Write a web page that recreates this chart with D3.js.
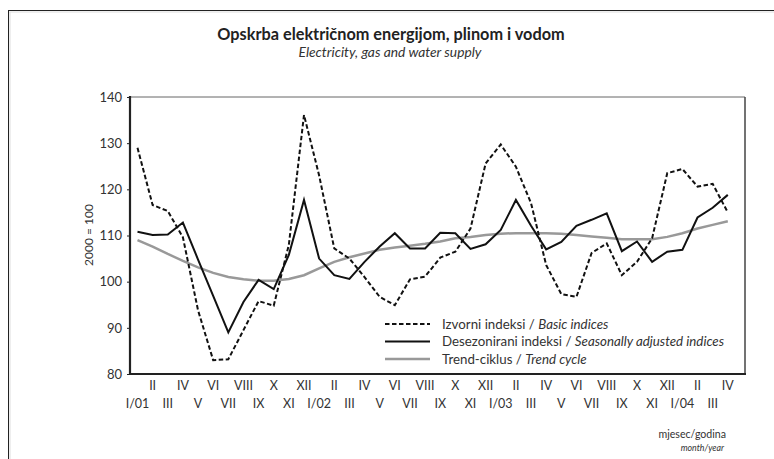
<!DOCTYPE html>
<html><head><meta charset="utf-8">
<script src="https://cdn.jsdelivr.net/npm/d3@7"></script>
<style>body{margin:0;background:#fff}svg{display:block}text{font-family:Lato,"Open Sans",sans-serif;fill:#333}</style>
</head><body><svg id="c" width="774" height="459"></svg>
<script>
const months = ["I/01","II","III","IV","V","VI","VII","VIII","IX","X","XI","XII",
"I/02","II","III","IV","V","VI","VII","VIII","IX","X","XI","XII",
"I/03","II","III","IV","V","VI","VII","VIII","IX","X","XI","XII",
"I/04","II","III","IV"];
const basicIndices = [129.0,116.6,115.3,109.6,93.8,83.0,83.2,89.5,95.8,94.8,108.0,136.1,
123.0,107.2,105.0,101.0,96.7,94.9,100.5,101.1,105.2,106.5,111.5,125.6,
129.7,124.9,117.0,103.6,97.3,96.7,106.2,108.3,101.4,104.3,109.4,123.5,
124.4,120.6,121.2,115.0];
const seasonallyAdjusted = [110.8,110.1,110.2,112.8,104.8,96.9,89.0,95.6,100.4,98.4,105.8,117.7,
105.0,101.4,100.6,104.3,107.6,110.5,107.2,107.2,110.6,110.5,107.1,108.1,
111.2,117.7,112.1,107.0,108.6,112.1,113.4,114.8,106.6,108.7,104.3,106.5,
106.9,113.9,116.0,118.8];
const trendCycle = [109.0,107.6,106.0,104.5,103.1,101.9,101.0,100.5,100.2,100.2,100.6,101.4,
102.9,104.3,105.3,106.1,106.9,107.4,107.8,108.2,108.7,109.4,109.7,110.1,
110.4,110.5,110.5,110.5,110.4,110.1,109.8,109.5,109.2,109.2,109.2,109.7,
110.5,111.5,112.3,113.1];
const yTicks = [80,90,100,110,120,130,140];

const svg = d3.select("#c");
const L=130, R=745, T=97, B=374;
const x = d3.scalePoint().domain(d3.range(months.length)).range([137.5,727.8]);
const y = d3.scaleLinear().domain([80,140]).range([B,T]);

// outer frame
svg.append("line").attr("x1",8).attr("x2",774).attr("y1",10.5).attr("y2",10.5).attr("stroke","#222").attr("stroke-width",1);
svg.append("line").attr("x1",8.5).attr("x2",8.5).attr("y1",10).attr("y2",459).attr("stroke","#222").attr("stroke-width",1);
svg.append("line").attr("x1",9).attr("x2",774).attr("y1",12).attr("y2",12).attr("stroke","#ddd").attr("stroke-width",1);
svg.append("line").attr("x1",10).attr("x2",10).attr("y1",12).attr("y2",459).attr("stroke","#ddd").attr("stroke-width",1);

// titles
svg.append("text").attr("x",391).attr("y",40).attr("text-anchor","middle").attr("font-size",16.3).attr("font-weight","bold").style("fill","#222").text("Opskrba električnom energijom, plinom i vodom");
svg.append("text").attr("x",390).attr("y",57).attr("text-anchor","middle").attr("font-size",13.8).attr("font-style","italic").text("Electricity, gas and water supply");

// plot box
svg.append("line").attr("x1",L).attr("x2",R).attr("y1",T).attr("y2",T).attr("stroke","#666").attr("stroke-width",1);
svg.append("line").attr("x1",R).attr("x2",R).attr("y1",T).attr("y2",B).attr("stroke","#444").attr("stroke-width",1.5);

// y axis
const yAxis = svg.append("g").attr("transform",`translate(${L},0)`)
  .call(d3.axisLeft(y).tickValues(yTicks).tickSize(3).tickPadding(5).tickFormat(d3.format("d")));
yAxis.select(".domain").remove();
yAxis.selectAll("line").attr("stroke","#222");
yAxis.selectAll("text").attr("font-size",13).attr("font-family","Lato,'Open Sans',sans-serif").style("fill","#333");

svg.append("text").attr("transform","translate(93,235) rotate(-90)").attr("text-anchor","middle").attr("font-size",12).text("2000 = 100");

// x labels
const xg = svg.append("g");
xg.selectAll("text").data(months).join("text")
  .attr("x",(d,i)=>x(i)).attr("y",(d,i)=> i%2===1 ? 390 : 408)
  .attr("text-anchor","middle").attr("font-size",12.5).text(d=>d);

// lines
const line = arr => d3.line().x((d,i)=>x(i)).y(d=>y(d))(arr);
svg.append("path").attr("d",line(trendCycle)).attr("fill","none").attr("stroke","#999").attr("stroke-width",2.5);
svg.append("path").attr("d",line(seasonallyAdjusted)).attr("fill","none").attr("stroke","#111").attr("stroke-width",2).attr("stroke-linejoin","miter");
svg.append("path").attr("d",line(basicIndices)).attr("fill","none").attr("stroke","#111").attr("stroke-width",2).attr("stroke-dasharray","4.5,2.5");

// left/bottom axes lines (thick)
svg.append("line").attr("x1",L).attr("x2",L).attr("y1",T-1).attr("y2",B+1).attr("stroke","#222").attr("stroke-width",2.2);
svg.append("line").attr("x1",L-1).attr("x2",R+1).attr("y1",B).attr("y2",B).attr("stroke","#222").attr("stroke-width",2.2);

// legend
const legend = [
  {sty:{stroke:"#111",w:2,dash:"4.5,2.5"}, a:"Izvorni indeksi / ", b:"Basic indices"},
  {sty:{stroke:"#111",w:2,dash:null}, a:"Desezonirani indeksi / ", b:"Seasonally adjusted indices"},
  {sty:{stroke:"#999",w:2.5,dash:null}, a:"Trend-ciklus / ", b:"Trend cycle"}
];
legend.forEach((d,i)=>{
  const yy = 324 + i*17.5;
  svg.append("line").attr("x1",385).attr("x2",430).attr("y1",yy).attr("y2",yy)
    .attr("stroke",d.sty.stroke).attr("stroke-width",d.sty.w).attr("stroke-dasharray",d.sty.dash);
  const t = svg.append("text").attr("x",442).attr("y",yy+4.5).attr("font-size",13.3);
  t.append("tspan").text(d.a);
  t.append("tspan").attr("font-style","italic").text(d.b);
});

svg.append("text").attr("x",726).attr("y",438).attr("text-anchor","end").attr("font-size",10.6).text("mjesec/godina");
svg.append("text").attr("x",724).attr("y",451).attr("text-anchor","end").attr("font-size",8.8).attr("font-style","italic").text("month/year");
</script></body></html>
